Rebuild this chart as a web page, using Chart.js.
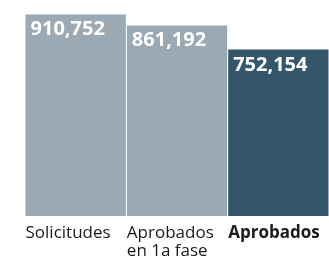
<!DOCTYPE html>
<html>
<head>
<meta charset="utf-8">
<script src="https://cdn.jsdelivr.net/npm/chart.js@4/dist/chart.umd.min.js"></script>
<style>
  html, body { margin: 0; padding: 0; background: #fff; }
  #wrap { width: 329px; height: 261px; }
</style>
</head>
<body>
<div id="wrap"><canvas id="chart" width="329" height="261"></canvas></div>
<script>
// Data
const categories = [['Solicitudes'], ['Aprobados', 'en 1a fase'], ['Aprobados']];
const values = [910752, 861192, 752154];
const barColors = ['#9aa9b3', '#9aa9b3', '#33566b'];
const boldLabel = [false, false, true];

const FONT = '"Open Sans", "Noto Sans", sans-serif';

// Draws the value inside each bar and the category text under it
const barLabels = {
  id: 'barLabels',
  afterDatasetsDraw(chart) {
    const ctx = chart.ctx;
    const meta = chart.getDatasetMeta(0);
    const bottom = chart.chartArea.bottom;
    meta.data.forEach((bar, i) => {
      const left = bar.x - bar.width / 2;
      ctx.save();
      ctx.textAlign = 'left';
      ctx.textBaseline = 'alphabetic';
      ctx.fillStyle = '#ffffff';
      ctx.font = 'bold 20px ' + FONT;
      ctx.fillText(values[i].toLocaleString('en-US'), left + 5, bar.y + 21);

      ctx.fillStyle = '#1a1a1a';
      ctx.font = (boldLabel[i] ? 'bold ' : '') + '17px ' + FONT;
      categories[i].forEach((line, j) => {
        ctx.fillText(line, left, bottom + 22 + j * 17.5);
      });
      ctx.restore();
    });
  }
};

new Chart(document.getElementById('chart'), {
  type: 'bar',
  data: {
    labels: categories.map(c => c.join(' ')),
    datasets: [{
      data: values,
      backgroundColor: barColors,
      borderWidth: 0,
      categoryPercentage: 1,
      barPercentage: 0.99
    }]
  },
  options: {
    responsive: false,
    animation: false,
    layout: { padding: { left: 25, right: 0, top: 0, bottom: 45 } },
    scales: {
      x: { display: false },
      y: { display: false, min: 0, max: 976000 }
    },
    plugins: {
      legend: { display: false },
      tooltip: { enabled: false }
    }
  },
  plugins: [barLabels]
});
</script>
</body>
</html>
